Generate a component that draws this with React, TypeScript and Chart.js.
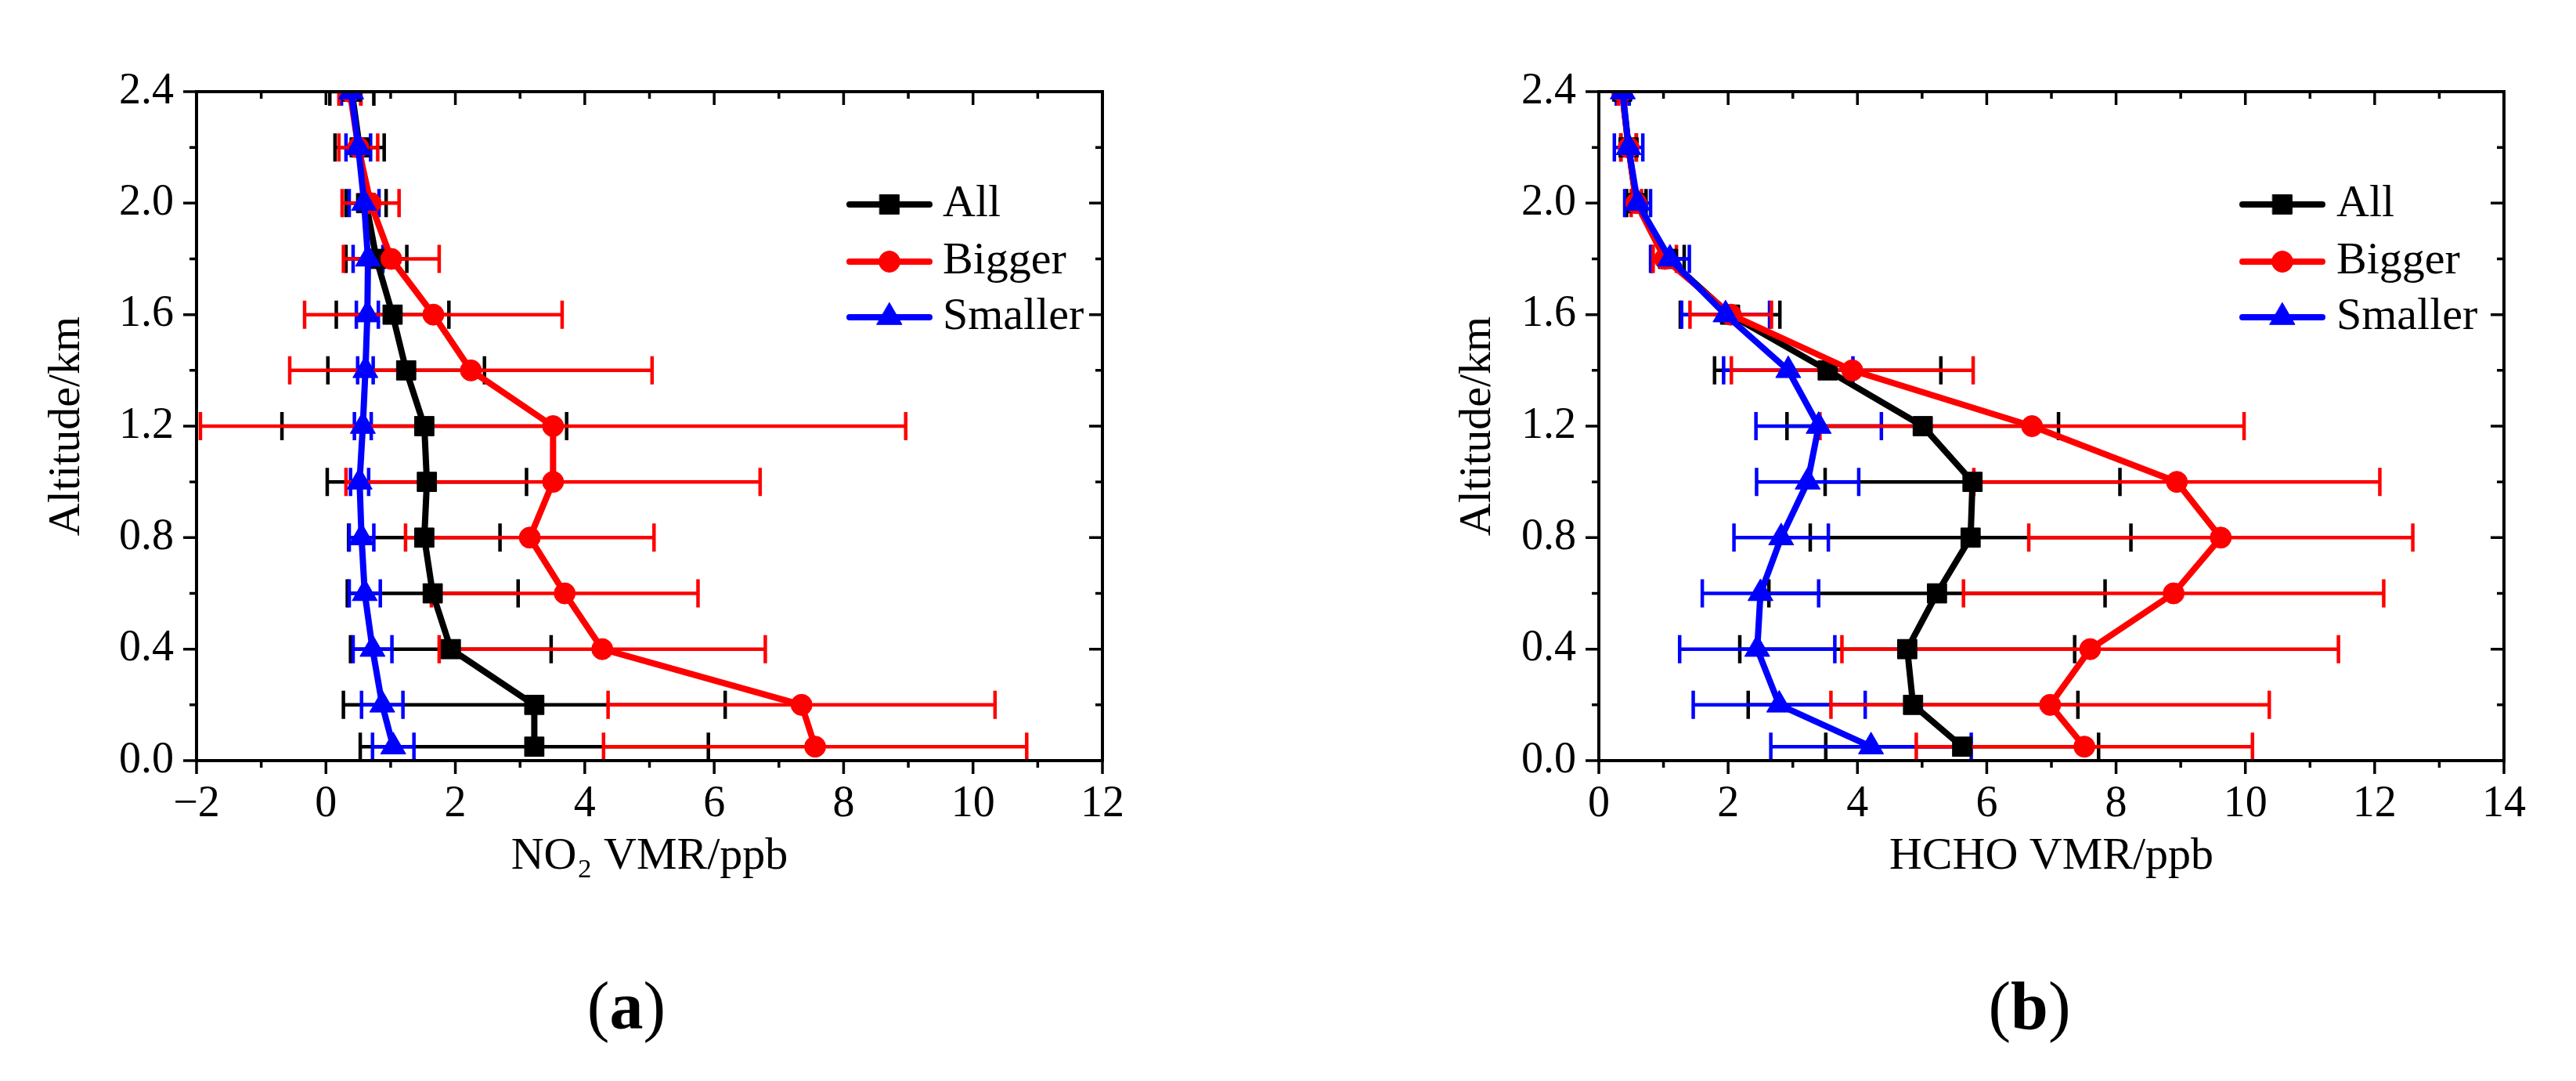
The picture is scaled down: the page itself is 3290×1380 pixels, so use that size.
import React, { useEffect, useRef } from 'react';
import { Chart, registerables } from 'chart.js';
import { drawPoint } from 'chart.js/helpers';

Chart.register(...registerables);

// altitude levels (km) shared by every profile
const altitudes = [0.05, 0.2, 0.4, 0.6, 0.8, 1.0, 1.2, 1.4, 1.6, 1.8, 2.0, 2.2, 2.4];

// (a) NO2 VMR / ppb
const no2All = [3.22, 3.22, 1.93, 1.65, 1.52, 1.56, 1.52, 1.24, 1.03, 0.78, 0.62, 0.52, 0.4];
const no2AllErr = [2.69, 2.95, 1.55, 1.32, 1.17, 1.54, 2.2, 1.21, 0.87, 0.47, 0.31, 0.38, 0.34];
const no2Bigger = [7.56, 7.35, 4.27, 3.69, 3.15, 3.51, 3.51, 2.24, 1.66, 1.01, 0.69, 0.5, 0.37];
const no2BiggerErr = [3.27, 2.99, 2.52, 2.06, 1.92, 3.2, 5.45, 2.8, 1.99, 0.74, 0.44, 0.3, 0.17];
const no2Smaller = [1.04, 0.87, 0.72, 0.6, 0.55, 0.52, 0.57, 0.61, 0.64, 0.65, 0.59, 0.5, 0.39];
const no2SmallerErr = [0.32, 0.32, 0.3, 0.24, 0.19, 0.14, 0.13, 0.12, 0.17, 0.23, 0.23, 0.19, 0.15];

// (b) HCHO VMR / ppb
const hchoAll = [5.62, 4.86, 4.77, 5.23, 5.75, 5.78, 5.01, 3.54, 2.03, 1.07, 0.58, 0.46, 0.36];
const hchoAllErr = [2.11, 2.55, 2.59, 2.6, 2.48, 2.28, 2.1, 1.75, 0.77, 0.25, 0.15, 0.12, 0.08];
const hchoBigger = [7.51, 6.98, 7.6, 8.89, 9.62, 8.94, 6.7, 3.92, 2.04, 1.02, 0.58, 0.46, 0.36];
const hchoBiggerErr = [2.6, 3.39, 3.84, 3.25, 2.97, 3.14, 3.28, 1.87, 0.63, 0.18, 0.08, 0.12, 0.06];
const hchoSmaller = [4.21, 2.79, 2.45, 2.5, 2.82, 3.23, 3.4, 2.93, 1.96, 1.1, 0.6, 0.46, 0.37];
const hchoSmallerErr = [1.55, 1.33, 1.2, 0.9, 0.73, 0.79, 0.97, 1.0, 0.68, 0.3, 0.2, 0.22, 0.1];

const seriesLabels = ['All', 'Bigger', 'Smaller'];
const seriesColors = ['#000000', '#ff0000', '#0000ff'];
const seriesStyles = ['rect', 'circle', 'triangle'];
const seriesRadius = [17.5, 13.5, 18.5];

const FONT = "'Liberation Serif', 'Times New Roman', serif";

// error bars go under all the lines/markers (black, then blue, then red)
const errorBarPlugin = {
  id: 'errorBars',
  beforeDatasetsDraw(chart: any) {
    const { ctx, chartArea, scales } = chart;
    const x = scales.x, y = scales.y;
    ctx.save();
    ctx.beginPath();
    ctx.rect(chartArea.left, chartArea.top, chartArea.right - chartArea.left, chartArea.bottom - chartArea.top);
    ctx.clip();
    [0, 2, 1].forEach((di) => {
      const ds = chart.data.datasets[di];
      if (!ds) return;
      ctx.strokeStyle = ds.borderColor;
      ctx.lineWidth = 4.5;
      ds.data.forEach((p: any, i: number) => {
        const e = ds.errorBars[i];
        const py = y.getPixelForValue(p.y);
        const x0 = x.getPixelForValue(p.x - e);
        const x1 = x.getPixelForValue(p.x + e);
        ctx.beginPath();
        ctx.moveTo(x0, py);
        ctx.lineTo(x1, py);
        ctx.moveTo(x0, py - 18);
        ctx.lineTo(x0, py + 18);
        ctx.moveTo(x1, py - 18);
        ctx.lineTo(x1, py + 18);
        ctx.stroke();
      });
    });
    ctx.restore();
  },
};

// Origin-style frame: ticks out on left/bottom, in on top/right, with minor ticks
const framePlugin = {
  id: 'frame',
  afterDatasetsDraw(chart: any) {
    const { ctx, chartArea } = chart;
    const { left, right, top, bottom } = chartArea;
    const x = chart.scales.x, y = chart.scales.y;
    const major = 17, minor = 9;
    ctx.save();
    ctx.strokeStyle = '#000';
    ctx.lineWidth = 3.5;
    ctx.lineCap = 'butt';
    const xt = x.ticks.map((t: any) => t.value);
    const yt = y.ticks.map((t: any) => t.value);
    const mids = (arr: number[]) => arr.slice(1).map((v, i) => (v + arr[i]) / 2);
    ctx.beginPath();
    xt.forEach((v: number) => {
      const px = x.getPixelForValue(v);
      ctx.moveTo(px, bottom); ctx.lineTo(px, bottom + major);
      ctx.moveTo(px, top); ctx.lineTo(px, top + major);
    });
    mids(xt).forEach((v) => {
      const px = x.getPixelForValue(v);
      ctx.moveTo(px, bottom); ctx.lineTo(px, bottom + minor);
      ctx.moveTo(px, top); ctx.lineTo(px, top + minor);
    });
    yt.forEach((v: number) => {
      const py = y.getPixelForValue(v);
      ctx.moveTo(left, py); ctx.lineTo(left - major, py);
      ctx.moveTo(right, py); ctx.lineTo(right - major, py);
    });
    mids(yt).forEach((v) => {
      const py = y.getPixelForValue(v);
      ctx.moveTo(left, py); ctx.lineTo(left - minor, py);
      ctx.moveTo(right, py); ctx.lineTo(right - minor, py);
    });
    ctx.stroke();
    ctx.lineWidth = 4;
    ctx.strokeRect(left, top, right - left, bottom - top);
    ctx.restore();
  },
};

const profileLegendPlugin = {
  id: 'profileLegend',
  afterDraw(chart: any, _args: any, opts: any) {
    const { ctx, chartArea } = chart;
    ctx.save();
    chart.data.datasets.forEach((ds: any, k: number) => {
      const yy = chartArea.top + opts.rows[k];
      const cx = chartArea.right - opts.markerFromRight;
      ctx.strokeStyle = ds.borderColor;
      ctx.lineWidth = 8;
      ctx.lineCap = 'round';
      ctx.beginPath();
      ctx.moveTo(cx - 51, yy);
      ctx.lineTo(cx + 51, yy);
      ctx.stroke();
      ctx.fillStyle = ds.pointBackgroundColor;
      ctx.strokeStyle = ds.pointBorderColor;
      ctx.lineWidth = 1;
      drawPoint(ctx, { pointStyle: ds.pointStyle, radius: ds.pointRadius, borderWidth: 1, rotation: 0 } as any, cx, yy);
      ctx.fillStyle = '#000';
      ctx.font = `58px ${FONT}`;
      ctx.textAlign = 'left';
      ctx.textBaseline = 'middle';
      ctx.fillText(ds.label, chartArea.right - opts.textFromRight, yy);
    });
    ctx.restore();
  },
};

const fmtX = (v: any) => (Number(v) < 0 ? `\u2212${Math.abs(Number(v))}` : `${v}`);

interface PanelProps {
  left: number;
  xTitle: string;
  xMin: number;
  xMax: number;
  values: number[][];
  errors: number[][];
  yWidth: number;
  yTitlePad: number;
  padRight: number;
  markerFromRight: number;
  textFromRight: number;
}

const CANVAS_W = 1645;
const CANVAS_H = 1140;

const ProfilePanel: React.FC<PanelProps> = (p) => {
  const ref = useRef<HTMLCanvasElement>(null);

  useEffect(() => {
    if (!ref.current) return;
    const datasets = seriesLabels.map((label, s) => ({
      label,
      data: altitudes.map((a, i) => ({ x: p.values[s][i], y: a })),
      errorBars: p.errors[s],
      showLine: true,
      borderColor: seriesColors[s],
      backgroundColor: seriesColors[s],
      borderWidth: 8,
      pointStyle: seriesStyles[s],
      pointRadius: seriesRadius[s],
      pointBackgroundColor: seriesColors[s],
      pointBorderColor: seriesColors[s],
      pointBorderWidth: 1,
      clip: 0,
      order: 3 - s,
    }));
    const tickFont = { family: FONT, size: 56 };
    const titleFont = { family: FONT, size: 58, lineHeight: 1 };
    const chart = new Chart(ref.current, {
      type: 'scatter',
      data: { datasets } as any,
      options: {
        animation: false,
        responsive: false,
        layout: { padding: { left: 0, top: 117, right: p.padRight, bottom: 0 } },
        scales: {
          x: {
            type: 'linear',
            min: p.xMin,
            max: p.xMax,
            grid: { display: false, drawTicks: false },
            border: { display: false },
            ticks: { stepSize: 2, padding: 23, color: '#000', font: tickFont, callback: fmtX, maxRotation: 0 },
            title: { display: true, text: p.xTitle, color: '#000', font: titleFont, padding: { top: 0, bottom: 17 } },
            afterFit: (s: any) => { s.height = CANVAS_H - 971; },
          },
          y: {
            type: 'linear',
            min: 0,
            max: 2.4,
            grid: { display: false, drawTicks: false },
            border: { display: false },
            ticks: { stepSize: 0.4, padding: 29, color: '#000', font: tickFont, callback: (v: any) => Number(v).toFixed(1) },
            title: { display: true, text: 'Altitude/km', color: '#000', font: titleFont, padding: { top: p.yTitlePad, bottom: 0 } },
            afterFit: (s: any) => { s.width = p.yWidth; },
          },
        },
        plugins: {
          legend: { display: false },
          tooltip: { enabled: false },
          profileLegend: { rows: [144, 217, 288], markerFromRight: p.markerFromRight, textFromRight: p.textFromRight },
        } as any,
      },
      plugins: [errorBarPlugin, framePlugin, profileLegendPlugin],
    });
    return () => {
      chart.destroy();
    };
  }, []);

  return (
    <canvas
      ref={ref}
      width={CANVAS_W}
      height={CANVAS_H}
      style={{ position: 'absolute', left: p.left, top: 0, width: CANVAS_W, height: CANVAS_H }}
    />
  );
};

const captionStyle: React.CSSProperties = {
  position: 'absolute',
  top: 1241,
  width: 300,
  marginLeft: -150,
  textAlign: 'center',
  fontFamily: FONT,
  fontSize: 86,
  lineHeight: '86px',
  color: '#000',
};

export default function App() {
  return (
    <div style={{ position: 'absolute', left: 0, top: 0, width: 3290, height: 1380, background: '#fff', overflow: 'hidden' }}>
      <ProfilePanel
        left={0}
        xTitle="NO₂ VMR/ppb"
        xMin={-2}
        xMax={12}
        values={[no2All, no2Bigger, no2Smaller]}
        errors={[no2AllErr, no2BiggerErr, no2SmallerErr]}
        yWidth={251}
        yTitlePad={57}
        padRight={CANVAS_W - 1408}
        markerFromRight={272}
        textFromRight={204}
      />
      <ProfilePanel
        left={1645}
        xTitle="HCHO VMR/ppb"
        xMin={0}
        xMax={14}
        values={[hchoAll, hchoBigger, hchoSmaller]}
        errors={[hchoAllErr, hchoBiggerErr, hchoSmallerErr]}
        yWidth={2042 - 1645}
        yTitlePad={214}
        padRight={CANVAS_W - (3198 - 1645)}
        markerFromRight={283}
        textFromRight={214}
      />
      <div style={{ ...captionStyle, left: 800 }}>(<b>a</b>)</div>
      <div style={{ ...captionStyle, left: 2592 }}>(<b>b</b>)</div>
    </div>
  );
}
